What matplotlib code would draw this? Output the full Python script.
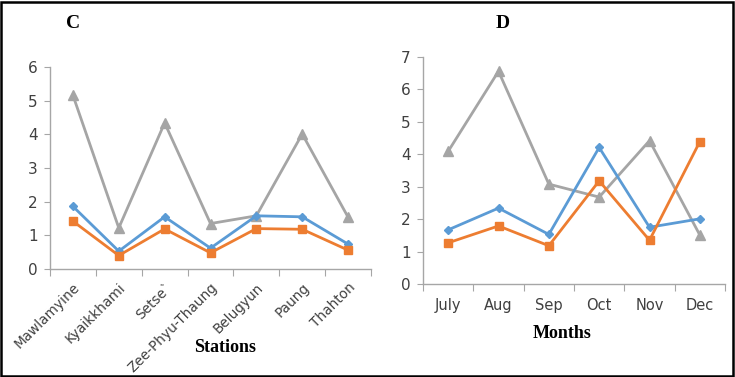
import matplotlib
matplotlib.use('Agg')
import matplotlib.pyplot as plt
from matplotlib.patches import Rectangle

# panel C data
stations = ['Mawlamyine', 'Kyaikkhami', 'Setse`', 'Zee-Phyu-Thaung', 'Belugyun', 'Paung', 'Thahton']
c_blue = [1.86, 0.53, 1.55, 0.62, 1.58, 1.55, 0.74]
c_orange = [1.42, 0.40, 1.19, 0.48, 1.20, 1.18, 0.56]
c_gray = [5.16, 1.22, 4.34, 1.35, 1.58, 4.01, 1.54]

# panel D data
months = ['July', 'Aug', 'Sep', 'Oct', 'Nov', 'Dec']
d_blue = [1.67, 2.34, 1.53, 4.21, 1.75, 2.01]
d_orange = [1.27, 1.79, 1.18, 3.18, 1.35, 4.39]
d_gray = [4.09, 6.56, 3.08, 2.68, 4.42, 1.51]

BLUE = '#5B9BD5'
ORANGE = '#ED7D31'
GRAY = '#A5A5A5'
AXIS_COLOR = '#a6a6a6'
TEXT_COLOR = '#404040'

W, H = 735, 377
fig = plt.figure(figsize=(W / 100, H / 100), dpi=100)


def px_axes(left, right, top, bottom):
    return fig.add_axes([left / W, 1 - bottom / H, (right - left) / W, (bottom - top) / H])


def style_axes(ax, cats, ymax):
    n = len(cats)
    ax.set_xlim(-0.5, n - 0.5)
    ax.set_ylim(0, ymax)
    ax.set_yticks(range(ymax + 1))
    for s in ['top', 'right']:
        ax.spines[s].set_visible(False)
    for s in ['left', 'bottom']:
        ax.spines[s].set_color(AXIS_COLOR)
        ax.spines[s].set_linewidth(1.0)
    ax.set_xticks([i - 0.5 for i in range(n + 1)], minor=False)
    ax.set_xticklabels([])
    ax.set_xticks(range(n), minor=True)
    ax.tick_params(axis='x', which='major', length=5, color=AXIS_COLOR, direction='out')
    ax.tick_params(axis='x', which='minor', length=0, labelsize=10, labelcolor=TEXT_COLOR)
    ax.tick_params(axis='y', length=4, color=AXIS_COLOR, labelsize=11, labelcolor=TEXT_COLOR, pad=5)


def draw_series(ax, x, blue, orange, gray):
    ax.plot(x, gray, color=GRAY, lw=2, marker='^', ms=7, clip_on=False)
    ax.plot(x, blue, color=BLUE, lw=2, marker='D', ms=4.5, clip_on=False)
    ax.plot(x, orange, color=ORANGE, lw=2, marker='s', ms=6, clip_on=False)


# C
ax1 = px_axes(50, 371, 67, 269)
style_axes(ax1, stations, 6)
draw_series(ax1, range(len(stations)), c_blue, c_orange, c_gray)
ax1.set_xticklabels(stations, minor=True, rotation=45, ha='right', va='top',
                    rotation_mode='anchor')
ax1.tick_params(axis='x', which='minor', labelsize=9.8, pad=8)

# D
ax2 = px_axes(423, 725, 57, 284)
style_axes(ax2, months, 7)
draw_series(ax2, range(len(months)), d_blue, d_orange, d_gray)
ax2.set_xticklabels(months, minor=True)
ax2.tick_params(axis='x', which='minor', labelsize=10.5, pad=10)

# titles and axis names
serif = 'Liberation Serif'
fig.text(73 / W, 1 - 23 / H, 'C', family=serif, weight='bold', fontsize=14, ha='center', va='center')
fig.text(503 / W, 1 - 23 / H, 'D', family=serif, weight='bold', fontsize=14, ha='center', va='center')
fig.text(225 / W, 1 - 348 / H, 'Stations', family=serif, weight='bold', fontsize=13, ha='center', va='center')
fig.text(562 / W, 1 - 334 / H, 'Months', family=serif, weight='bold', fontsize=13, ha='center', va='center')

# outer frame
fig.patches.append(Rectangle((1 / W, 1 / H), (W - 3) / W, (H - 3) / H, transform=fig.transFigure,
                             fill=False, edgecolor='black', linewidth=1.8))

fig.savefig('out.png', dpi=100)
